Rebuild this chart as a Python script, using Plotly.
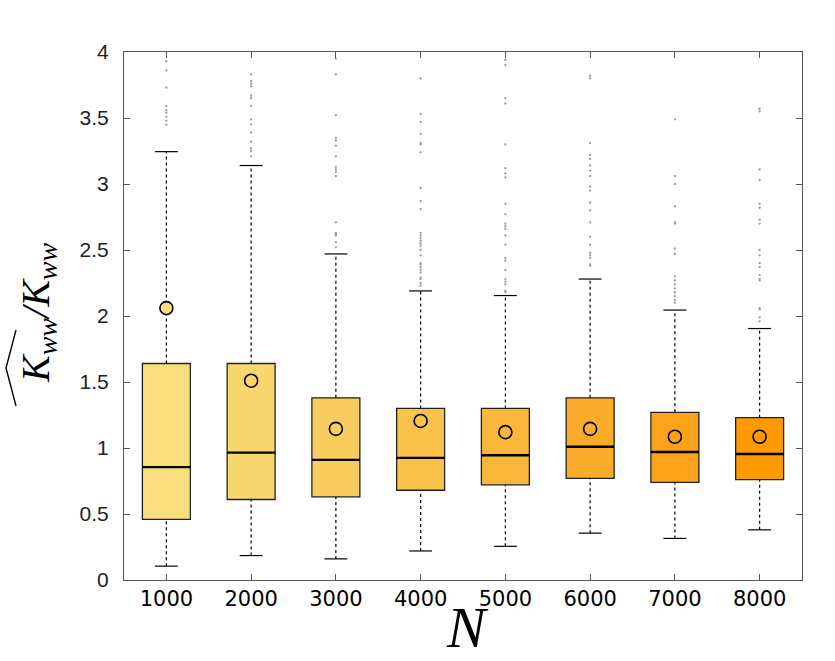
import plotly.graph_objects as go

# ---------------- data ----------------
N_labels = ["1000", "2000", "3000", "4000", "5000", "6000", "7000", "8000"]
q1 = [0.46, 0.61, 0.63, 0.68, 0.72, 0.77, 0.74, 0.76]
median = [0.855, 0.965, 0.91, 0.925, 0.945, 1.01, 0.97, 0.955]
q3 = [1.64, 1.64, 1.38, 1.30, 1.30, 1.38, 1.27, 1.23]
mean = [2.06, 1.51, 1.145, 1.205, 1.12, 1.145, 1.085, 1.085]
whisk_lo = [0.105, 0.185, 0.16, 0.22, 0.255, 0.355, 0.315, 0.38]
whisk_hi = [3.245, 3.14, 2.47, 2.19, 2.155, 2.28, 2.045, 1.905]
outliers = [
    [3.93, 3.86, 3.73, 3.59, 3.56, 3.54, 3.51, 3.48, 3.45],
    [3.83, 3.78, 3.76, 3.74, 3.67, 3.65, 3.59, 3.49, 3.45, 3.39, 3.32, 3.27, 3.25, 3.21],
    [3.95, 3.83, 3.52, 3.35, 3.33, 3.29, 3.21, 3.13, 3.11, 3.09, 3.06, 2.71, 2.63, 2.62,
     2.61, 2.56, 2.52],
    [3.80, 3.53, 3.47, 3.38, 3.31, 3.30, 3.24, 2.97, 2.87, 2.81, 2.63, 2.61, 2.59, 2.57,
     2.55, 2.53, 2.50, 2.46, 2.40, 2.39, 2.37, 2.35, 2.33, 2.29, 2.28, 2.25, 2.23],
    [3.94, 3.90, 3.65, 3.61, 3.30, 3.12, 3.08, 3.05, 2.85, 2.77, 2.70, 2.68, 2.66, 2.61,
     2.54, 2.44, 2.42, 2.35, 2.28, 2.26, 2.24, 2.19, 2.18],
    [3.82, 3.80, 3.31, 3.22, 3.19, 3.14, 3.10, 3.06, 2.98, 2.95, 2.86, 2.80, 2.71, 2.60,
     2.54, 2.48, 2.46, 2.44, 2.39, 2.38],
    [3.49, 3.06, 3.00, 2.83, 2.71, 2.70, 2.51, 2.47, 2.30, 2.27, 2.24, 2.21, 2.18, 2.15,
     2.12, 2.10],
    [3.57, 3.55, 3.11, 3.03, 2.85, 2.82, 2.73, 2.70, 2.50, 2.46, 2.40, 2.37, 2.31, 2.28,
     2.27, 2.06, 2.05, 1.99, 1.96],
]
colors = ["#F8DE7C", "#F8D76E", "#F8CD5E", "#F9C24A", "#FAB73A", "#FBAC2A", "#FCA319", "#FF9A00"]
y_ticks = [0, 0.5, 1, 1.5, 2, 2.5, 3, 3.5, 4]

# ---------------- style ----------------
BOX_W = 0.566
CAP_HALF = 0.135
pos = list(range(1, len(N_labels) + 1))

fig = go.Figure()

# outliers
ox, oy = [], []
for p, vals in zip(pos, outliers):
    for v in vals:
        ox.append(p)
        oy.append(v)
fig.add_trace(go.Scatter(x=ox, y=oy, mode="markers",
                         marker=dict(size=2.3, color="#999999", symbol="circle"),
                         hoverinfo="skip", showlegend=False))

# whiskers (dotted)
wx, wy = [], []
for p, a, b, c, d in zip(pos, whisk_lo, q1, q3, whisk_hi):
    wx += [p, p, None, p, p, None]
    wy += [a, b, None, c, d, None]
fig.add_trace(go.Scatter(x=wx, y=wy, mode="lines",
                         line=dict(color="black", width=1.2, dash="dot"),
                         hoverinfo="skip", showlegend=False))

# caps
cx, cy = [], []
for p, a, d in zip(pos, whisk_lo, whisk_hi):
    cx += [p - CAP_HALF, p + CAP_HALF, None, p - CAP_HALF, p + CAP_HALF, None]
    cy += [a, a, None, d, d, None]
fig.add_trace(go.Scatter(x=cx, y=cy, mode="lines",
                         line=dict(color="black", width=1.2),
                         hoverinfo="skip", showlegend=False))

# boxes
fig.add_trace(go.Bar(x=pos, y=[b - a for a, b in zip(q1, q3)], base=q1,
                     width=BOX_W, marker=dict(color=colors, line=dict(color="#222222", width=1.3)),
                     hoverinfo="skip", showlegend=False))

# medians
mx, my = [], []
for p, m in zip(pos, median):
    mx += [p - BOX_W / 2, p + BOX_W / 2, None]
    my += [m, m, None]
fig.add_trace(go.Scatter(x=mx, y=my, mode="lines",
                         line=dict(color="black", width=2.4),
                         hoverinfo="skip", showlegend=False))

# means
fig.add_trace(go.Scatter(x=pos, y=mean, mode="markers",
                         marker=dict(size=13, color=colors, symbol="circle",
                                     line=dict(color="black", width=1.6)),
                         hoverinfo="skip", showlegend=False))

axis_col = "#555555"
fig.update_xaxes(range=[0.5, 8.5], tickmode="array", tickvals=pos, ticktext=N_labels,
                 ticks="inside", ticklen=6, tickcolor=axis_col, showline=True, linecolor=axis_col,
                 linewidth=1, mirror="ticks", showgrid=False, zeroline=False,
                 tickfont=dict(family="DejaVu Sans", size=21, color="black"))
fig.update_yaxes(range=[0, 4], tickmode="array", tickvals=y_ticks,
                 ticktext=[f"{t:g}" for t in y_ticks],
                 ticks="inside", ticklen=6, tickcolor=axis_col, showline=True, linecolor=axis_col,
                 linewidth=1, mirror="ticks", showgrid=False, zeroline=False,
                 ticklabelstandoff=10,
                 tickfont=dict(family="Liberation Sans", size=21, color="#222222"))

L, R, T, B = 124, 33, 52, 81
W, H = 835, 661
pw, ph = W - L - R, H - T - B

def px(xp):
    return (xp - L) / pw

def py(yp):
    return (H - B - yp) / ph

annotations = [
    dict(text="<i>N</i>", xref="paper", yref="paper", x=px(467), y=py(661),
         xanchor="center", yanchor="bottom", showarrow=False, borderpad=0,
         font=dict(family="Liberation Serif", size=58, color="black")),
    dict(text="<i>K<sub>ww</sub>/K<sub>ww</sub></i>", xref="paper", yref="paper",
         x=px(38), y=py(312), xanchor="center", yanchor="middle", showarrow=False,
         textangle=-90, font=dict(family="Liberation Serif", size=40, color="black")),
]

shapes = [
    dict(type="path", xref="paper", yref="paper",
         path=f"M {px(16)} {py(406)} L {px(6)} {py(368)} L {px(16)} {py(330)}",
         line=dict(color="black", width=1.4)),
]

fig.update_layout(width=W, height=H, margin=dict(l=L, r=R, t=T, b=B),
                  plot_bgcolor="white", paper_bgcolor="white",
                  barmode="overlay", annotations=annotations, shapes=shapes,
                  showlegend=False)

fig.write_html("out.html")
